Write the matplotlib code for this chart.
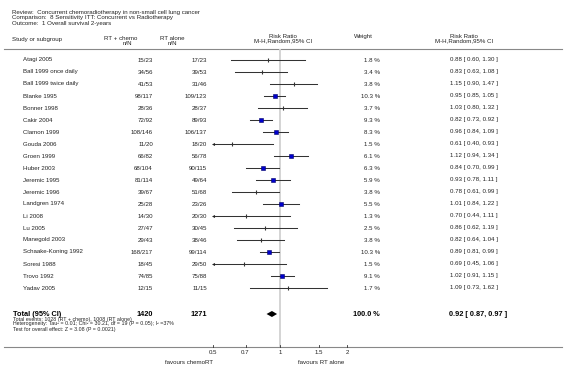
import matplotlib
matplotlib.use('Agg')
import matplotlib.pyplot as plt
import numpy as np

plt.rcParams['font.family'] = ['Liberation Sans', 'DejaVu Sans']

# ---- data ----
studies = ["Atagi 2005", "Ball 1999 once daily", "Ball 1999 twice daily", "Blanke 1995",
           "Bonner 1998", "Cakir 2004", "Clamon 1999", "Gouda 2006", "Groen 1999",
           "Huber 2003", "Jeremic 1995", "Jeremic 1996", "Landgren 1974", "Li 2008",
           "Lu 2005", "Manegold 2003", "Schaake-Koning 1992", "Soresi 1988",
           "Trovo 1992", "Yadav 2005"]
chemo_n = [15, 34, 41, 98, 28, 72, 108, 11, 66, 68, 81, 39, 25, 14, 27, 29, 168, 18, 74, 12]
chemo_N = [23, 56, 53, 117, 36, 92, 146, 20, 82, 104, 114, 67, 28, 30, 47, 43, 217, 45, 85, 15]
alone_n = [17, 39, 31, 109, 28, 89, 106, 18, 56, 90, 49, 51, 23, 20, 30, 38, 99, 29, 75, 11]
alone_N = [23, 53, 46, 123, 37, 93, 137, 20, 78, 115, 64, 68, 26, 30, 45, 46, 114, 50, 88, 15]
weights = [1.8, 3.4, 3.8, 10.3, 3.7, 9.3, 8.3, 1.5, 6.1, 6.3, 5.9, 3.8, 5.5, 1.3, 2.5, 3.8,
           10.3, 1.5, 9.1, 1.7]
rr = [0.88, 0.83, 1.15, 0.95, 1.03, 0.82, 0.96, 0.61, 1.12, 0.84, 0.93, 0.78, 1.01, 0.70,
      0.86, 0.82, 0.89, 0.69, 1.02, 1.09]
rr_lo = [0.60, 0.63, 0.90, 0.85, 0.80, 0.73, 0.84, 0.40, 0.94, 0.70, 0.78, 0.61, 0.84, 0.44,
         0.62, 0.64, 0.81, 0.45, 0.91, 0.73]
rr_hi = [1.30, 1.08, 1.47, 1.05, 1.32, 0.92, 1.09, 0.93, 1.34, 0.99, 1.11, 0.99, 1.22, 1.11,
         1.19, 1.04, 0.99, 1.06, 1.15, 1.62]
total_rr, total_lo, total_hi = 0.92, 0.87, 0.97
xticks = [0.5, 0.7, 1, 1.5, 2]

W, H = 566, 373
fig = plt.figure(figsize=(W / 100, H / 100), dpi=100)
ax = fig.add_axes([0, 0, 1, 1])
ax.set_xlim(0, W)
ax.set_ylim(H, 0)
ax.axis('off')

# forest panel, log scale from 0.5 to 2
x0, x1 = 213, 347
fx = fig.add_axes([x0 / W, 0, (x1 - x0) / W, 1])
fx.patch.set_alpha(0)
fx.set_xscale('log')
fx.set_xlim(0.5, 2)
fx.set_ylim(H, 0)
fx.axis('off')

fs = 4.4
txt = '#222222'

# header block
ax.text(12, 12.5, "Review:  Concurrent chemoradiotherapy in non-small cell lung cancer",
        fontsize=fs, va='center', color=txt)
ax.text(12, 18, "Comparison:  8 Sensitivity ITT: Concurrent vs Radiotherapy",
        fontsize=fs, va='center', color=txt)
ax.text(12, 23.5, "Outcome:  1 Overall survival 2-years", fontsize=fs, va='center', color=txt)

ax.text(12, 39, "Study or subgroup", fontsize=fs, va='center', color=txt)
ax.text(121, 39, "RT + chemo", fontsize=fs, va='center', ha='center', color=txt)
ax.text(132, 43.5, "n/N", fontsize=fs, va='center', ha='right', color=txt)
ax.text(172, 39, "RT alone", fontsize=fs, va='center', ha='center', color=txt)
ax.text(172, 43.5, "n/N", fontsize=fs, va='center', ha='center', color=txt)
ax.text(283, 36.5, "Risk Ratio", fontsize=fs, va='center', ha='center', color=txt)
ax.text(283, 41, "M-H,Random,95% CI", fontsize=fs, va='center', ha='center', color=txt)
ax.text(363, 36.5, "Weight", fontsize=fs, va='center', ha='center', color=txt)
ax.text(464, 36.5, "Risk Ratio", fontsize=fs, va='center', ha='center', color=txt)
ax.text(464, 41, "M-H,Random,95% CI", fontsize=fs, va='center', ha='center', color=txt)

ax.plot([4, 562], [49, 49], color='#888888', lw=0.8)

# vertical line of no effect
fx.plot([1, 1], [50, 346], color='#d4d4d4', lw=1.4, zorder=1)

# study rows
for i, name in enumerate(studies):
    y = 60 + 12 * i
    ax.text(23, y, name, fontsize=fs, va='center', color=txt)
    ax.text(153, y, f"{chemo_n[i]}/{chemo_N[i]}", fontsize=fs, va='center', ha='right', color=txt)
    ax.text(207, y, f"{alone_n[i]}/{alone_N[i]}", fontsize=fs, va='center', ha='right', color=txt)
    ax.text(380, y, f"{weights[i]:.1f} %", fontsize=fs, va='center', ha='right', color=txt)
    ax.text(450, y, f"{rr[i]:.2f} [ {rr_lo[i]:.2f}, {rr_hi[i]:.2f} ]", fontsize=fs,
            va='center', color=txt)

    lo = max(rr_lo[i], 0.5)
    fx.plot([lo, rr_hi[i]], [y, y], color='#333333', lw=0.75, zorder=2)
    if rr_lo[i] < 0.5:
        fx.plot([0.5], [y], marker='<', ms=2.2, color='#222222', mec='none',
                clip_on=False, zorder=3)
    if weights[i] >= 5:
        side = 1.5 * np.sqrt(weights[i]) * 0.72
        fx.plot([rr[i]], [y], marker='s', ms=side, mfc='#0000cc', mec='#000066',
                mew=0.4, zorder=4)
    else:
        fx.plot([rr[i]], [y], marker='|', ms=2.4, mew=0.8, color='#333333', zorder=4)

# total row
yt = 314
ax.text(13, yt, "Total (95% CI)", fontsize=5.3, fontweight='bold', va='center', color='black')
ax.text(153, yt, str(sum(chemo_N)), fontsize=5.3, fontweight='bold', va='center',
        ha='right', color='black')
ax.text(207, yt, str(sum(alone_N)), fontsize=5.3, fontweight='bold', va='center',
        ha='right', color='black')
ax.text(380, yt, "100.0 %", fontsize=5.3, fontweight='bold', va='center', ha='right',
        color='black')
ax.text(449, yt, f"{total_rr:.2f} [ {total_lo:.2f}, {total_hi:.2f} ]", fontsize=5.3,
        fontweight='bold', va='center', color='black')
fx.fill([total_lo, total_rr, total_hi, total_rr], [yt, yt - 3, yt, yt + 3],
        color='black', lw=0, zorder=4)

fs2 = 3.8
ax.text(13, 319, f"Total events: {sum(chemo_n)} (RT + chemo), {sum(alone_n)} (RT alone)",
        fontsize=fs2, va='center', color=txt)
ax.text(13, 324, "Heterogeneity: Tau\u00b2 = 0.01; Chi\u00b2 = 30.21, df = 19 (P = 0.05); I\u00b2 =37%",
        fontsize=fs2, va='center', color=txt)
ax.text(13, 329, "Test for overall effect: Z = 3.08 (P = 0.0021)",
        fontsize=fs2, va='center', color=txt)

# bottom axis
ax.plot([4, 562], [347, 347], color='#888888', lw=0.8)
for t in xticks:
    fx.plot([t, t], [345, 347], color='#333333', lw=0.6, clip_on=False)
    fx.text(t, 353, f"{t:g}", fontsize=fs, ha='center', va='center', color=txt,
            clip_on=False)
ax.text(213, 362, "favours chemoRT", fontsize=fs, ha='right', va='center', color=txt)
ax.text(321, 362, "favours RT alone", fontsize=fs, ha='center', va='center', color=txt)

fig.savefig('out.png', dpi=100)
